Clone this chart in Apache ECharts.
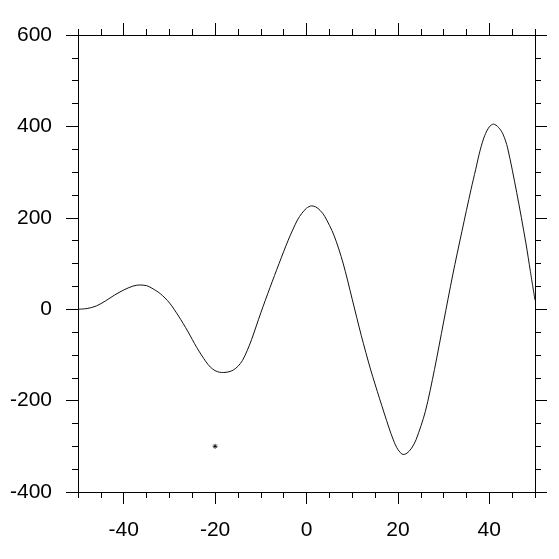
<!DOCTYPE html>
<html>
<head>
<meta charset="utf-8">
<script src="https://cdn.jsdelivr.net/npm/echarts@6/dist/echarts.min.js"></script>
<style>
html,body{margin:0;padding:0;background:#fff;}
#c{width:559px;height:559px;}
</style>
</head>
<body>
<div id="c"></div>
<script>
// ---- data ----
var xValues = [-50, -48, -46, -44, -42, -40, -38, -36.5, -35, -34, -32, -30, -28, -26, -24, -22, -21, -20, -19, -18.2, -17, -16, -15, -14, -13, -12, -10, -8, -6, -4, -2, -1, 0, 1.1, 2, 3, 4, 6, 8, 10, 12, 14, 16, 18, 19, 20, 21.2, 22, 23, 24, 26, 28, 30, 32, 34, 36, 37, 38, 39, 40, 40.9, 42, 43, 44, 46, 48, 49, 50];
var yValues = [0, 1.5, 7, 18, 31, 42, 50.5, 53, 51.5, 47, 34, 14, -15, -48, -84, -115, -127, -134.5, -138, -138.5, -137, -133, -125, -112, -91, -66, -8, 47, 100, 151, 195, 210, 221, 226, 224, 216, 203, 162, 101, 22, -58, -131, -196, -258, -286, -307, -318, -315, -304, -285, -224, -132, -28, 75, 170, 262, 305, 348, 380, 399, 405, 398, 383, 353, 255, 145, 82, 20];
var markerX = [-20];
var markerY = [-300];
var xTickLabels = [-40, -20, 0, 20, 40];
var yTickLabels = [-400, -200, 0, 200, 400, 600];

var lineData = xValues.map(function (x, i) { return [x, yValues[i]]; });
var markerData = markerX.map(function (x, i) { return [x, markerY[i]]; });

var FONT = '"Liberation Sans", Arial, Helvetica, sans-serif';
var gridRect = {left: 78, right: 24, top: 35, bottom: 67};
var black = '#000';

function minorXAxis(pos) {
  return {
    type: 'value', gridIndex: 0, position: pos, min: -50, max: 50, interval: 5,
    axisLine: {show: true, onZero: false, lineStyle: {color: black, width: 1}},
    axisTick: {show: true, inside: false, length: 6, lineStyle: {color: black, width: 1}},
    axisLabel: {show: false}, splitLine: {show: false}
  };
}
function majorXAxis(pos, showLabel) {
  return {
    type: 'value', gridIndex: 1, position: pos, min: -50, max: 50,
    axisLine: {show: false, onZero: false},
    axisTick: {show: true, inside: false, length: 12, customValues: xTickLabels, lineStyle: {color: black, width: 1}},
    axisLabel: {show: showLabel, customValues: xTickLabels, margin: 28, color: black, fontSize: 21, fontFamily: FONT},
    splitLine: {show: false}
  };
}
function yAx(pos, showLabel) {
  return {
    type: 'value', gridIndex: 0, position: pos, min: -400, max: 600, interval: 200,
    axisLine: {show: true, onZero: false, lineStyle: {color: black, width: 1}},
    axisTick: {show: true, inside: false, length: 12, lineStyle: {color: black, width: 1}},
    minorTick: {show: true, splitNumber: 4, length: 6, lineStyle: {color: black, width: 1}},
    axisLabel: {show: showLabel, margin: 26, color: black, fontSize: 21, fontFamily: FONT},
    splitLine: {show: false}, minorSplitLine: {show: false}
  };
}

var chart = echarts.init(document.getElementById('c'), null, {renderer: 'canvas'});
chart.setOption({
  animation: false,
  backgroundColor: '#fff',
  grid: [Object.assign({}, gridRect), Object.assign({}, gridRect)],
  xAxis: [minorXAxis('bottom'), minorXAxis('top'), majorXAxis('bottom', true), majorXAxis('top', false)],
  yAxis: [yAx('left', true), yAx('right', false), {type: 'value', gridIndex: 1, show: false, min: 0, max: 1}],
  series: [
    {
      type: 'line', xAxisIndex: 0, yAxisIndex: 0, data: lineData,
      smooth: 0.3, showSymbol: false, symbol: 'none',
      lineStyle: {color: '#111', width: 1}
    },
    {
      type: 'scatter', xAxisIndex: 0, yAxisIndex: 0, data: markerData,
      symbol: 'path://M0,-1L0,1M-1,0L1,0M-0.7,-0.7L0.7,0.7M-0.7,0.7L0.7,-0.7',
      symbolSize: 5,
      itemStyle: {color: 'none', borderColor: black, borderWidth: 1}
    }
  ]
});
</script>
</body>
</html>
